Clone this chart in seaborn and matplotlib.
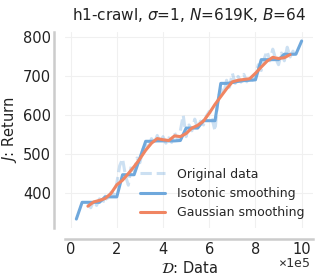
import numpy as np
import pandas as pd
import seaborn as sns
import matplotlib
matplotlib.use("Agg")
import matplotlib.pyplot as plt

# data (x in units of 1e5)
raw_x = [0.75, 0.875, 1.0, 1.125, 1.25, 1.375, 1.5, 1.625, 1.75, 1.875,
         2.0, 2.125, 2.25, 2.375, 2.5, 2.625, 2.75, 2.875, 3.0, 3.125,
         3.25, 3.375, 3.5, 3.625, 3.75, 3.875, 4.0, 4.125, 4.25, 4.375,
         4.5, 4.625, 4.75, 4.875, 5.0, 5.125, 5.25, 5.375, 5.5, 5.625,
         5.75, 5.875, 6.0, 6.125, 6.25, 6.375, 6.5, 6.625, 6.75, 6.875,
         7.0, 7.125, 7.25, 7.375, 7.5, 7.625, 7.75, 7.875, 8.0, 8.125,
         8.25, 8.375, 8.5, 8.625, 8.75, 8.875, 9.0, 9.125, 9.25, 9.375,
         9.5, 9.625, 9.75]
raw_y = [372, 362, 380, 368, 385, 372, 392, 380, 402, 395,
         425, 470, 488, 445, 420, 470, 455, 490, 478, 512,
         525, 515, 540, 528, 548, 530, 545, 528, 542, 530,
         555, 538, 560, 600, 545, 575, 560, 590, 565, 585,
         575, 598, 610, 590, 560, 640, 668, 655, 690, 672,
         708, 682, 700, 685, 705, 686, 700, 690, 705, 730,
         715, 745, 765, 740, 770, 745, 730, 760, 740, 775,
         750, 765, 745]

iso_x = [0.25, 0.5, 0.75, 1.0, 1.25, 1.5, 1.75, 2.0, 2.25, 2.5,
         2.75, 3.0, 3.25, 3.5, 3.75, 4.0, 4.25, 4.5, 4.75, 5.0,
         5.25, 5.5, 5.75, 6.0, 6.25, 6.5, 6.75, 7.0, 7.25, 7.5,
         7.75, 8.0, 8.25, 8.5, 8.75, 9.0, 9.25, 9.5, 9.75, 10.0]
iso_y = [333, 376, 376, 376, 376, 390, 390, 390, 447, 447,
         447, 490, 533, 533, 534, 534, 534, 534, 535, 567,
         567, 567, 586, 586, 586, 682, 682, 684, 687, 689,
         690, 691, 743, 743, 743, 743, 757, 757, 757, 791]

gauss_x = [0.75, 1.0, 1.25, 1.5, 1.75, 2.0, 2.25, 2.5, 2.75, 3.0,
           3.25, 3.5, 3.75, 4.0, 4.25, 4.5, 4.75, 5.0, 5.25, 5.5,
           5.75, 6.0, 6.25, 6.5, 6.75, 7.0, 7.25, 7.5, 7.75, 8.0,
           8.25, 8.5, 8.75, 9.0, 9.25, 9.5]
gauss_y = [366, 377, 381, 386, 399, 421, 433, 450, 468, 488,
           510, 528, 540, 537, 535, 547, 545, 553, 567, 574,
           585, 605, 628, 648, 668, 686, 690, 692, 694, 708,
           724, 739, 749, 746, 748, 756]

sns.set_theme(style="whitegrid")
plt.rcParams["font.family"] = ["DejaVu Sans"]

blue = "#6fa8dc"
orange = "#f08562"

fig = plt.figure(figsize=(3.19, 2.79), dpi=100)
ax = fig.add_axes([0.204, 0.183, 0.777, 0.702])

sns.lineplot(x=raw_x, y=raw_y, ax=ax, color=blue, alpha=0.35, lw=2.2,
             linestyle="--", label="Original data")
sns.lineplot(x=iso_x, y=iso_y, ax=ax, color=blue, lw=2.2,
             label="Isotonic smoothing")
sns.lineplot(x=gauss_x, y=gauss_y, ax=ax, color=orange, lw=2.2,
             label="Gaussian smoothing")

ax.set_xticks([0, 2, 4, 6, 8, 10])
ax.set_yticks([400, 500, 600, 700, 800])
ax.tick_params(labelsize=10.5, length=0, pad=2, labelcolor="#222222")
ax.grid(color="#f0f0f0", lw=0.8)
ax.set_xlabel(r"$\mathcal{D}$: Data", fontsize=10.5, labelpad=2,
              color="#222222")
ax.set_ylabel(r"$J$: Return", fontsize=10.5, labelpad=3, color="#222222")
ax.set_title(r"h1-crawl, $\sigma$=1, $N$=619K, $B$=64", fontsize=11,
             pad=9, color="#222222")
ax.text(0.99, -0.15, "×1e5", transform=ax.transAxes, ha="right", va="top",
        fontsize=9.5, family="DejaVu Sans Mono", color="#333333")

sns.despine(ax=ax, offset=8)
for s in ["left", "bottom"]:
    ax.spines[s].set_color("#cccccc")
    ax.spines[s].set_linewidth(1.8)

ax.legend(loc="lower right", frameon=False, fontsize=9,
          handlelength=2.0, handletextpad=0.9, borderaxespad=0.3)

fig.savefig("out.png", dpi=100)
